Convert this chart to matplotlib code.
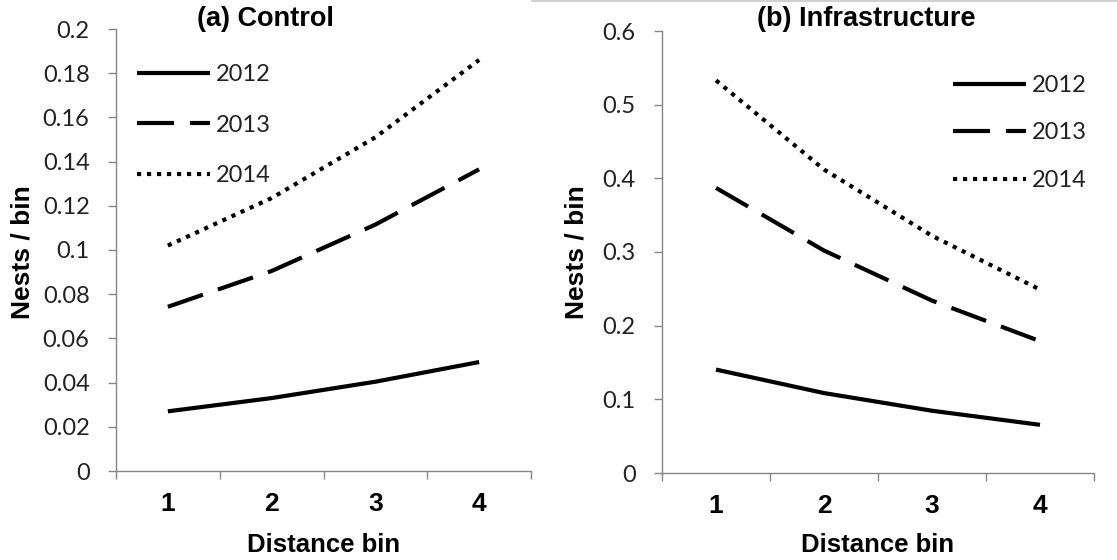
import matplotlib
matplotlib.use("Agg")
import matplotlib.pyplot as plt
from matplotlib.lines import Line2D

# values, nests per bin at distance bins 1-4
bins = [1, 2, 3, 4]
years = ['2012', '2013', '2014']

control_2012 = [0.027, 0.033, 0.0404, 0.0493]
control_2013 = [0.0743, 0.0905, 0.1115, 0.1365]
control_2014 = [0.102, 0.1235, 0.151, 0.186]

infra_2012 = [0.1404, 0.1085, 0.0845, 0.0654]
infra_2013 = [0.387, 0.302, 0.234, 0.179]
infra_2014 = [0.533, 0.412, 0.322, 0.249]

control_yticks = [0, 0.02, 0.04, 0.06, 0.08, 0.1, 0.12, 0.14, 0.16, 0.18, 0.2]
control_ylabels = ['0', '0.02', '0.04', '0.06', '0.08', '0.1', '0.12', '0.14', '0.16', '0.18', '0.2']
infra_yticks = [0, 0.1, 0.2, 0.3, 0.4, 0.5, 0.6]
infra_ylabels = ['0', '0.1', '0.2', '0.3', '0.4', '0.5', '0.6']

W, H = 1117, 560
fig = plt.figure(figsize=(W / 100, H / 100), dpi=100)

axis_grey = '#868686'
num_font = 'Lato'
bold_font = 'Liberation Sans'

styles = [
    dict(linestyle='-'),
    dict(linestyle=(0, (8.9, 3.8))),
    dict(linestyle=(0, (1, 1.4))),
]


def px(x0, y0, x1, y1):
    # pixel box (top-left origin) -> figure fraction rect
    return [x0 / W, 1 - y1 / H, (x1 - x0) / W, (y1 - y0) / H]


def setup(ax, series, yticks, ylabels, ymax, leg_xy, spacing):
    for vals, yr, st in zip(series, years, styles):
        ax.plot(bins, vals, color='black', lw=3, label=yr,
                solid_capstyle='butt', dash_capstyle='butt', **st)
    ax.set_xlim(0.5, 4.5)
    ax.set_ylim(0, ymax)
    for s in ['top', 'right']:
        ax.spines[s].set_visible(False)
    for s in ['left', 'bottom']:
        ax.spines[s].set_color(axis_grey)
        ax.spines[s].set_linewidth(1)
    ax.set_yticks(yticks)
    ax.set_yticklabels(ylabels, fontfamily=num_font, fontsize=17, color='#222222')
    ax.tick_params(axis='y', length=6, width=1, color=axis_grey, pad=13)
    # category ticks sit between bins, labels at bin centres
    ax.set_xticks([0.5, 1.5, 2.5, 3.5, 4.5])
    ax.set_xticklabels([])
    ax.set_xticks(bins, minor=True)
    ax.set_xticklabels([str(b) for b in bins], minor=True,
                       fontfamily=bold_font, fontweight='bold', fontsize=19)
    ax.tick_params(axis='x', which='major', length=6, width=1, color=axis_grey)
    ax.tick_params(axis='x', which='minor', length=0, pad=15)
    leg = ax.legend(loc='upper left', bbox_to_anchor=(leg_xy[0] / W, 1 - leg_xy[1] / H),
                    bbox_transform=fig.transFigure, frameon=False,
                    handlelength=3.1, handletextpad=0.25, labelspacing=spacing,
                    borderpad=0, borderaxespad=0,
                    prop={'family': num_font, 'size': 17})
    for t in leg.get_texts():
        t.set_color('#222222')


ax1 = fig.add_axes(px(116, 29, 531, 471))
setup(ax1, [control_2012, control_2013, control_2014],
      control_yticks, control_ylabels, 0.2, (137, 64), 1.25)

ax2 = fig.add_axes(px(662, 31, 1094, 473))
setup(ax2, [infra_2012, infra_2013, infra_2014],
      infra_yticks, infra_ylabels, 0.6, (953, 75), 1.12)

lab = dict(fontfamily=bold_font, fontweight='bold', ha='center', va='center')
fig.text(265 / W, 1 - 19 / H, '(a) Control', fontsize=19.5, **lab)
fig.text(866 / W, 1 - 19 / H, '(b) Infrastructure', fontsize=19.5, **lab)
fig.text(324 / W, 1 - 545 / H, 'Distance bin', fontsize=18.5, **lab)
fig.text(878 / W, 1 - 545 / H, 'Distance bin', fontsize=18.5, **lab)
fig.text(23 / W, 1 - 252 / H, 'Nests / bin', rotation=90, fontsize=19, **lab)
fig.text(577 / W, 1 - 252 / H, 'Nests / bin', rotation=90, fontsize=19, **lab)

# faint border line along the top of the right-hand chart
fig.add_artist(Line2D([532 / W, 1], [1 - 1 / H, 1 - 1 / H],
                      transform=fig.transFigure, color='#c8c8c8', lw=1.2))

fig.savefig('out.png', dpi=100)
